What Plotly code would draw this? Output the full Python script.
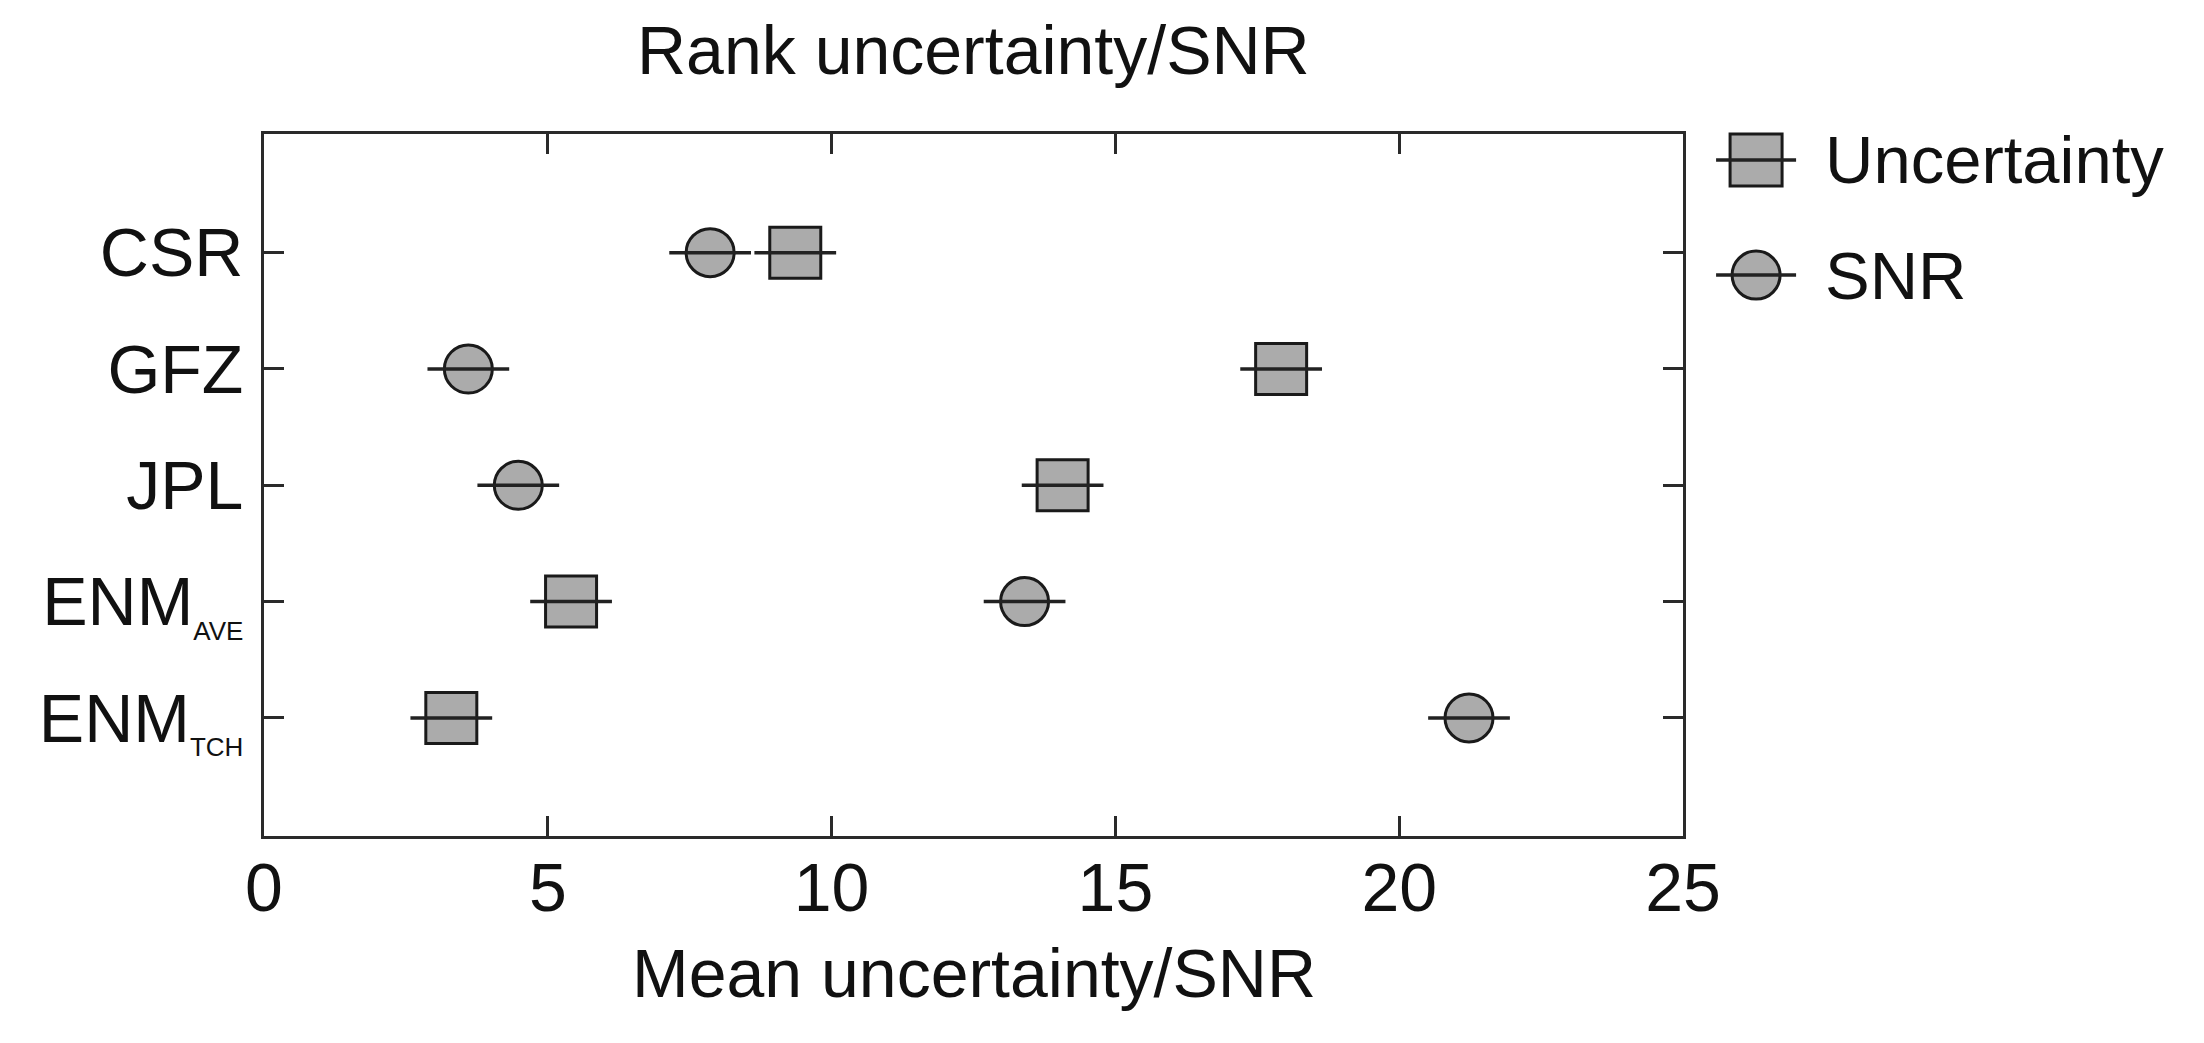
import plotly.graph_objects as go

# ---- data ----
categories = ["CSR", "GFZ", "JPL", "ENM_AVE", "ENM_TCH"]
tick_labels = [
    "CSR",
    "GFZ",
    "JPL",
    'ENM<sub><span style="font-size:26px">AVE</span></sub>',
    'ENM<sub><span style="font-size:26px">TCH</span></sub>',
]
uncertainty = [9.36, 17.92, 14.07, 5.41, 3.30]
snr = [7.86, 3.60, 4.48, 13.40, 21.23]
unc_err = [0.72, 0.72, 0.72, 0.72, 0.72]
snr_err = [0.72, 0.72, 0.72, 0.72, 0.72]
x_ticks = [0, 5, 10, 15, 20, 25]

# category positions (top to bottom)
ypos = [len(categories) - i for i in range(len(categories))]

FONT = "Liberation Sans, Arial, sans-serif"
FILL = "#ababab"
EDGE = "#1a1a1a"

fig = go.Figure()

# markers
fig.add_trace(go.Scatter(
    x=uncertainty, y=ypos, mode="markers", name="Uncertainty", showlegend=False,
    marker=dict(symbol="square", size=51, color=FILL, line=dict(color=EDGE, width=3)),
))
fig.add_trace(go.Scatter(
    x=snr, y=ypos, mode="markers", name="SNR", showlegend=False,
    marker=dict(symbol="circle", size=48, color=FILL, line=dict(color=EDGE, width=3)),
))
# error lines drawn over markers
for vals, errs in ((uncertainty, unc_err), (snr, snr_err)):
    fig.add_trace(go.Scatter(
        x=vals, y=ypos, mode="markers", showlegend=False, hoverinfo="skip",
        marker=dict(size=1, color="rgba(0,0,0,0)"),
        error_x=dict(type="data", array=errs, symmetric=True, width=0,
                     thickness=3.5, color="#222222"),
    ))

axis_common = dict(
    showline=True, linewidth=3, linecolor="#2a2a2a", mirror="ticks",
    ticks="inside", ticklen=20, tickwidth=3, tickcolor="#2a2a2a",
    showgrid=False, zeroline=False,
    tickfont=dict(family=FONT, size=68, color="#111111"),
)

fig.update_xaxes(range=[0, 25], tickvals=x_ticks, ticktext=[str(t) for t in x_ticks],
                 ticklabelstandoff=-10, **axis_common)
fig.update_yaxes(range=[-0.015, 6.02], tickvals=ypos, ticktext=tick_labels,
                 ticklabelstandoff=4, **axis_common)

# legend (manual)
legend_items = [("Uncertainty", "rect", 0.963), ("SNR", "circle", 0.799)]
for label, shape, yp in legend_items:
    half = 26 if shape == "rect" else 24
    fig.add_shape(type=shape, xref="paper", yref="paper", xsizemode="pixel", ysizemode="pixel",
                  xanchor=1.0515, yanchor=yp, x0=-half, x1=half, y0=-half, y1=half,
                  fillcolor=FILL, line=dict(color=EDGE, width=3))
    fig.add_shape(type="line", xref="paper", yref="paper", xsizemode="pixel", ysizemode="pixel",
                  xanchor=1.0515, yanchor=yp, x0=-40, x1=40, y0=0, y1=0,
                  line=dict(color="#222222", width=3.5))
    fig.add_annotation(text=label, xref="paper", yref="paper", x=1.099, y=yp,
                       xanchor="left", yanchor="middle", showarrow=False,
                       font=dict(family=FONT, size=67, color="#111111"))

fig.add_annotation(text="Rank uncertainty/SNR", xref="paper", yref="paper", x=0.5, y=(836 - 50) / 702,
                   xanchor="center", yanchor="middle", showarrow=False,
                   font=dict(family=FONT, size=68, color="#111111"))
fig.add_annotation(text="Mean uncertainty/SNR", xref="paper", yref="paper", x=0.5, y=(836 - 973) / 702,
                   xanchor="center", yanchor="middle", showarrow=False,
                   font=dict(family=FONT, size=68, color="#111111"))

# page body has an 8px default margin: figure is 16px smaller, margins shifted by 8px
fig.update_layout(
    width=2188, height=1027, autosize=False,
    margin=dict(l=256, r=513, t=126, b=199, pad=0),
    plot_bgcolor="white", paper_bgcolor="white",
    showlegend=False,
    font=dict(family=FONT, color="#111111"),
)

fig.write_html("out.html")
